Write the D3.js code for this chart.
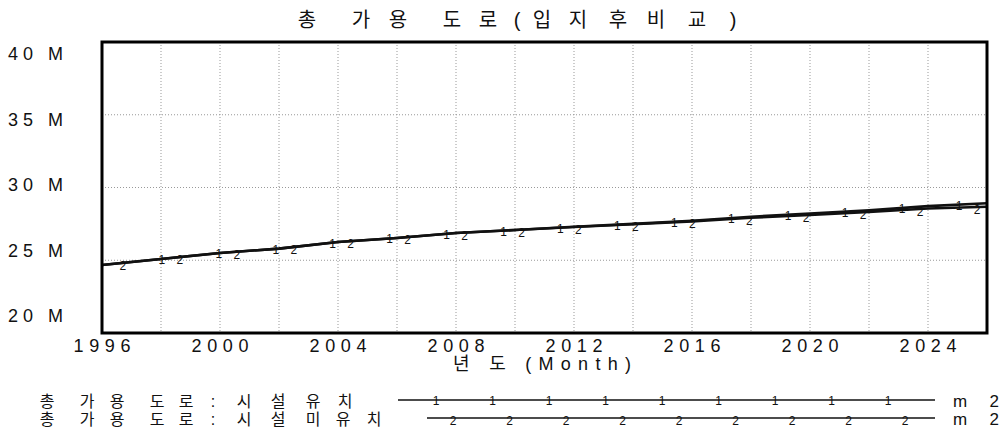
<!DOCTYPE html>
<html><head><meta charset="utf-8">
<script src="https://cdn.jsdelivr.net/npm/d3@7"></script>
<style>
html,body{margin:0;padding:0;background:#fff;}
text{font-family:"Liberation Sans","Noto Sans CJK KR",sans-serif;fill:#111;}
</style></head>
<body><svg id="c" width="1004" height="430"></svg>
<script>
const title = "총 가용 도로(입지후비교)";
const xTitle = "년 도 (Month)";
const years = [1996,1998,2000,2002,2004,2006,2008,2010,2012,2014,2016,2018,2020,2022,2024,2026];
const seriesWith =    [24.67,25.09,25.50,25.80,26.25,26.53,26.87,27.08,27.30,27.50,27.72,27.99,28.21,28.43,28.72,28.92];
const seriesWithout = [24.67,25.09,25.50,25.80,26.25,26.53,26.87,27.08,27.29,27.47,27.67,27.92,28.12,28.32,28.56,28.68];
const seriesNames = ["총 가용 도로 : 시설 유치","총 가용 도로 : 시설 미유치"];
const unit = "m 2";
const yTicks = [20,25,30,35,40];
const yTickLabels = ["20 M","25 M","30 M","35 M","40 M"];
const xTicks = [1996,2000,2004,2008,2012,2016,2020,2024];
const markerStart = [1998.03, 1996.71];
const markerStep = 1.93;

// per-character layout of spaced text (visible glyph centres)
const titleCentres = [307,null,361,398,null,452,488,517,542,578,618,656,697,733];
const legendCentres = [
  [47,null,87,117,null,157,186,null,213,null,244,278,null,313,345],
  [47,null,87,117,null,157,186,null,213,null,244,278,null,313,343,374]
];

const svg = d3.select("#c");
const L=102,R=987,T=42,B=333;
const x = d3.scaleLinear().domain([1996,2026]).range([L,R]);
const y = d3.scaleLinear().domain([20,40]).range([B,T]);
const yLab = d3.scaleLinear().domain([20,40]).range([315,53]);

function spacedText(str, centres, yy, size){
  const t = svg.append("text").attr("y",yy).attr("font-size",size).attr("text-anchor","middle");
  const chars = Array.from(str);
  chars.forEach((c,i)=>{
    if(centres[i]==null) return;
    t.append("tspan").attr("x",centres[i]).text(c);
  });
  return t;
}

// grid
const gridYears = d3.range(1998,2026,2);
svg.append("g").selectAll("line").data(gridYears).join("line")
  .attr("x1",d=>x(d)).attr("x2",d=>x(d)).attr("y1",T).attr("y2",B)
  .attr("stroke","#999").attr("stroke-width",1).attr("stroke-dasharray","1,2");
svg.append("g").selectAll("line").data([25,30,35]).join("line")
  .attr("x1",L).attr("x2",R).attr("y1",d=>y(d)).attr("y2",d=>y(d))
  .attr("stroke","#999").attr("stroke-width",1).attr("stroke-dasharray","1,2");

// lines
const line = d3.line().x((d,i)=>x(years[i])).y(d=>y(d));
[seriesWithout, seriesWith].forEach(s=>{
  svg.append("path").datum(s).attr("d",line).attr("fill","none")
    .attr("stroke","#111").attr("stroke-width",2.6);
});

// markers
[seriesWith, seriesWithout].forEach((s,si)=>{
  const interp = d3.scaleLinear().domain(years).range(s);
  const pts = d3.range(markerStart[si], 2025.9, markerStep);
  svg.append("g").selectAll("text").data(pts).join("text")
    .attr("x",d=>x(d)).attr("y",d=>y(interp(d))+(si===0?5:7))
    .attr("text-anchor","middle").attr("font-size",12).text(si+1+"");
});

// frame
svg.append("rect").attr("x",L).attr("y",T).attr("width",R-L).attr("height",B-T)
  .attr("fill","none").attr("stroke","#000").attr("stroke-width",3);

// y labels
svg.append("g").selectAll("text").data(yTicks).join("text")
  .attr("x",8).attr("y",d=>yLab(d)+7).attr("font-size",18)
  .attr("textLength",55).attr("lengthAdjust","spacing")
  .text((d,i)=>yTickLabels[i]);

// x labels
svg.append("g").selectAll("text").data(xTicks).join("text")
  .attr("x",d=>x(d)).attr("y",352).attr("text-anchor","middle").attr("font-size",18)
  .attr("textLength",57).attr("lengthAdjust","spacing").text(d=>d);

// titles
spacedText(title, titleCentres, 27, 20);
svg.append("text").attr("x",453).attr("y",370).attr("font-size",18)
  .attr("textLength",178).attr("lengthAdjust","spacing").text(xTitle);

// legend
const legY=[400,418], legX0=[398,427], legM0=[436,453];
seriesNames.forEach((n,i)=>{
  spacedText(n, legendCentres[i], legY[i]+7, 16);
  svg.append("line").attr("x1",legX0[i]).attr("x2",935).attr("y1",legY[i]).attr("y2",legY[i])
    .attr("stroke","#111").attr("stroke-width",1.5);
  const ms = d3.range(0,9).map(k=>legM0[i]+k*56.5);
  svg.append("g").selectAll("text").data(ms).join("text")
    .attr("x",d=>d).attr("y",legY[i]+(i===0?5:7)).attr("text-anchor","middle")
    .attr("font-size",12).text(i+1+"");
  svg.append("text").attr("x",953).attr("y",legY[i]+7).attr("font-size",17)
    .attr("textLength",46).attr("lengthAdjust","spacing").text(unit);
});
</script></body></html>
